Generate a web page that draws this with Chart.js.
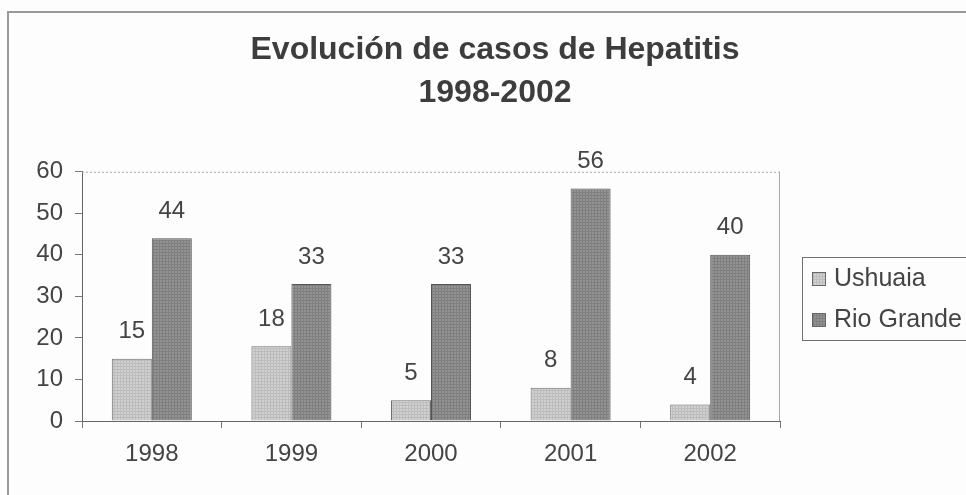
<!DOCTYPE html>
<html lang="es">
<head>
  <meta charset="UTF-8">
  <title>Evolución de casos de Hepatitis</title>
  <script src="https://cdn.jsdelivr.net/npm/chart.js"></script>
  <style>
    html, body { margin: 0; padding: 0; overflow: hidden; background: #fdfdfd; }
    #wrap { position: absolute; left: 0; top: 0; width: 990px; height: 495px; }
  </style>
</head>
<body>
  <div id="wrap"><canvas id="chart"></canvas></div>

  <script>
    const years = ["1998", "1999", "2000", "2001", "2002"];
    const ushuaia = [15, 18, 5, 8, 4];
    const rioGrande = [44, 33, 33, 56, 40];
    const yTicks = [0, 10, 20, 30, 40, 50, 60];

    const FONT = "'Liberation Sans', Arial, sans-serif";
    const TEXT = "#444";

    // little dotted texture like the old printed bars
    function texture(base, dot) {
      const c = document.createElement("canvas");
      c.width = 3; c.height = 3;
      const g = c.getContext("2d");
      g.fillStyle = base; g.fillRect(0, 0, 3, 3);
      g.fillStyle = dot; g.fillRect(0, 0, 3, 1); g.fillRect(0, 0, 1, 3);
      return g.createPattern(c, "repeat");
    }
    const lightFill = texture("#d0d0d0", "#bcbcbc");
    const darkFill = texture("#939393", "#7f7f7f");

    const frame = {
      id: "frame",
      beforeDraw(chart) {
        const ctx = chart.ctx;
        ctx.save();
        ctx.fillStyle = "#fdfdfd";
        ctx.fillRect(0, 0, chart.width, chart.height);
        ctx.strokeStyle = "#9a9a9a";
        ctx.lineWidth = 2;
        ctx.beginPath();
        ctx.moveTo(8, chart.height);
        ctx.lineTo(8, 12);
        ctx.lineTo(chart.width, 12);
        ctx.stroke();
        ctx.restore();
      },
      beforeDatasetsDraw(chart) {
        const { ctx, chartArea: a } = chart;
        ctx.save();
        ctx.strokeStyle = "#a8a8a8";
        ctx.lineWidth = 1;
        ctx.setLineDash([2, 2]);
        ctx.beginPath();
        ctx.moveTo(a.left, a.top + 0.5);
        ctx.lineTo(a.right, a.top + 0.5);
        ctx.stroke();
        ctx.setLineDash([]);
        ctx.beginPath();
        ctx.moveTo(a.right - 0.5, a.top);
        ctx.lineTo(a.right - 0.5, a.bottom);
        ctx.stroke();
        ctx.restore();
      }
    };

    const valueLabels = {
      id: "valueLabels",
      afterDatasetsDraw(chart) {
        const ctx = chart.ctx;
        ctx.save();
        ctx.font = "24px " + FONT;
        ctx.fillStyle = TEXT;
        ctx.textAlign = "center";
        ctx.textBaseline = "middle";
        chart.data.datasets.forEach((ds, i) => {
          chart.getDatasetMeta(i).data.forEach((bar, j) => {
            ctx.fillText(ds.data[j], bar.x, bar.y - 27);
          });
        });
        ctx.restore();
      }
    };

    const boxLegend = {
      id: "boxLegend",
      afterDraw(chart) {
        const ctx = chart.ctx;
        ctx.save();
        ctx.fillStyle = "#fdfdfd";
        ctx.fillRect(802, 257, 200, 83);
        ctx.strokeStyle = "#707070";
        ctx.lineWidth = 1;
        ctx.strokeRect(802.5, 257.5, 200, 83);
        ctx.font = "25px " + FONT;
        ctx.textBaseline = "middle";
        chart.data.datasets.forEach((ds, i) => {
          const y = 279 + i * 41;
          ctx.fillStyle = ds.backgroundColor;
          ctx.fillRect(812, y - 7, 14, 14);
          ctx.strokeStyle = "#666";
          ctx.strokeRect(812.5, y - 6.5, 13, 13);
          ctx.fillStyle = TEXT;
          ctx.fillText(ds.label, 834, y);
        });
        ctx.restore();
      }
    };

    new Chart(document.getElementById("chart"), {
      type: "bar",
      data: {
        labels: years,
        datasets: [
          { label: "Ushuaia", data: ushuaia, backgroundColor: lightFill, borderColor: "#6e6e6e", borderWidth: 1 },
          { label: "Rio Grande", data: rioGrande, backgroundColor: darkFill, borderColor: "#555", borderWidth: 1 }
        ]
      },
      options: {
        responsive: true,
        maintainAspectRatio: false,
        animation: false,
        datasets: { bar: { categoryPercentage: 0.573, barPercentage: 1 } },
        layout: { padding: 0 },
        plugins: {
          legend: { display: false },
          tooltip: { enabled: false },
          title: {
            display: true,
            text: ["Evolución de casos de Hepatitis", "1998-2002"],
            color: "#3d3d3d",
            font: { family: FONT, size: 32, weight: "bold", lineHeight: 1.34 },
            padding: { top: 29, bottom: 57 }
          }
        },
        scales: {
          x: {
            grid: { drawOnChartArea: false, drawTicks: true, tickLength: 7, color: "#777" },
            border: { color: "#666", width: 1 },
            ticks: { color: TEXT, font: { family: FONT, size: 24 }, padding: 12 },
            afterFit(s) { s.height = 74; }
          },
          y: {
            min: 0,
            max: 60,
            afterBuildTicks(s) { s.ticks = yTicks.map(v => ({ value: v })); },
            grid: { drawOnChartArea: false, drawTicks: true, tickLength: 7, color: "#777" },
            border: { color: "#666", width: 1 },
            ticks: { color: TEXT, font: { family: FONT, size: 24 }, padding: 12 },
            afterFit(s) { s.width = 82; }
          },
          // empty right-hand strip that keeps room for the legend box
          side: {
            position: "right",
            min: 0,
            max: 60,
            grid: { display: false },
            border: { display: false },
            ticks: { display: false },
            afterFit(s) { s.width = 210; }
          }
        }
      },
      plugins: [frame, valueLabels, boxLegend]
    });
  </script>
</body>
</html>
